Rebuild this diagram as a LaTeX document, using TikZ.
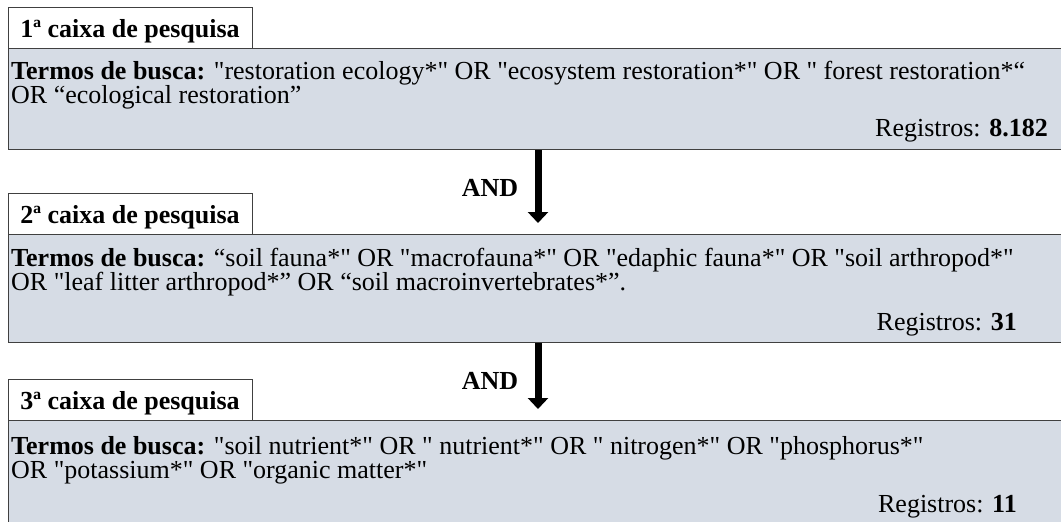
\documentclass[tikz,border=0pt]{standalone}
\usepackage{fontspec}
\setmainfont{Liberation Serif}[Ligatures=TeXOff]
\usetikzlibrary{arrows.meta}
\definecolor{boxfill}{HTML}{D6DCE5}
\definecolor{boxline}{HTML}{404040}
\tikzset{
  mainbox/.style={draw=boxline, line width=1.3pt, fill=boxfill, anchor=north west, inner sep=0pt, minimum width=1058pt},
  titlebox/.style={draw=boxline, line width=1.1pt, fill=white, anchor=north west, inner sep=0pt, minimum width=244pt, minimum height=41pt},
  txt/.style={inner sep=0pt, anchor=base west, font=\fontsize{26}{28}\selectfont},
  ttl/.style={inner sep=0pt, anchor=base, font=\fontsize{26}{28}\selectfont\bfseries},
  reg/.style={inner sep=0pt, anchor=base east, font=\fontsize{26}{28}\selectfont},
  andlbl/.style={inner sep=0pt, font=\fontsize{26}{28}\selectfont\bfseries},
  bigarrow/.style={line width=7pt, -{Triangle[width=20pt,length=11pt]}, shorten >=11pt}
}
\begin{document}
\begin{tikzpicture}[x=1pt,y=-1pt]
\useasboundingbox (0,0) rectangle (1061,522);
\coordinate (ax) at (538,0);
% box 1
\node[mainbox, minimum height=101pt] (b1) at (8,48) {};
\node[titlebox] (t1) at (8,7) {};
\node[ttl] (t1txt) at (130,37) {1ª caixa de pesquisa};
\node[txt] (m1a) at (11,79) {\textbf{Termos de busca:} "restoration ecology*" OR "ecosystem restoration*" OR " forest restoration*“};
\node[txt] (m1b) at (11,103) {OR “ecological restoration”};
\node[reg] (m1r) at (1048,136) {Registros: \textbf{8.182}};
% box 2
\node[mainbox, minimum height=108pt] (b2) at (8,234) {};
\node[titlebox] (t2) at (8,193) {};
\node[ttl] (t2txt) at (130,223) {2ª caixa de pesquisa};
\node[txt] (m2a) at (11,266) {\textbf{Termos de busca:} “soil fauna*" OR "macrofauna*" OR "edaphic fauna*" OR "soil arthropod*"};
\node[txt] (m2b) at (11,290) {OR "leaf litter arthropod*” OR “soil macroinvertebrates*”.};
\node[reg] (m2r) at (1017,330) {Registros: \textbf{31}};
% box 3
\node[mainbox, minimum height=110pt] (b3) at (8,420) {};
\node[titlebox] (t3) at (8,379) {};
\node[ttl] (t3txt) at (130,409) {3ª caixa de pesquisa};
\node[txt] (m3a) at (11,454) {\textbf{Termos de busca:} "soil nutrient*" OR " nutrient*" OR " nitrogen*" OR "phosphorus*"};
\node[txt] (m3b) at (11,478) {OR "potassium*" OR "organic matter*"};
\node[reg] (m3r) at (1017,512) {Registros: \textbf{11}};
% arrows
\draw[bigarrow] (b1.south -| ax) -- (b2.north -| ax);
\draw[bigarrow] (b2.south -| ax) -- (b3.north -| ax);
\node[andlbl] (and1) at (490,188) {AND};
\node[andlbl] (and2) at (490,381) {AND};
\end{tikzpicture}
\end{document}
